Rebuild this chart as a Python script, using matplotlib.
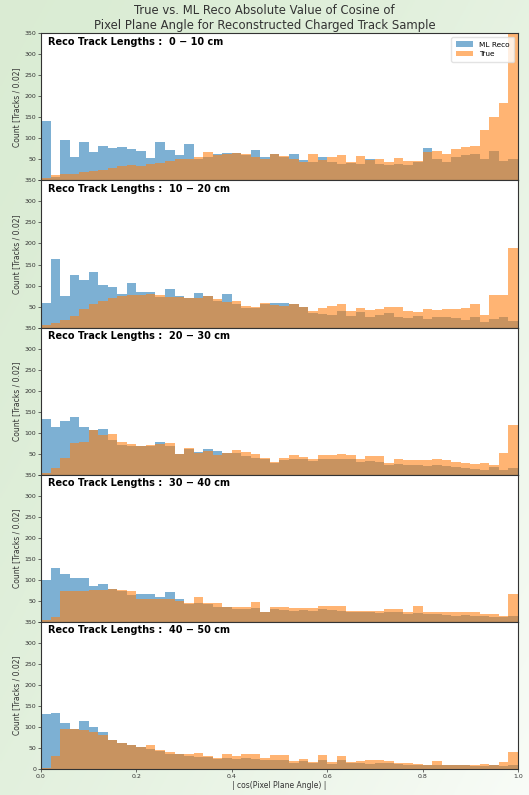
import numpy as np
import matplotlib
matplotlib.use("Agg")
import matplotlib.pyplot as plt

# |cos(pixel plane angle)| histograms, 50 bins of width 0.02, per reco track-length slice
length_labels = ["0 - 10", "10 - 20", "20 - 30", "30 - 40", "40 - 50"]

reco_0_10 = [142, 8, 96, 56, 92, 68, 82, 78, 80, 74, 70, 54, 92, 73, 60, 86, 52, 55, 62, 66,
             66, 60, 72, 56, 64, 56, 64, 48, 44, 56, 44, 40, 42, 40, 52, 38, 36, 40, 36, 44,
             78, 50, 44, 56, 60, 62, 52, 70, 46, 52]
true_0_10 = [5, 12, 15, 15, 20, 22, 25, 30, 34, 36, 35, 40, 42, 46, 50, 52, 56, 68, 60, 64,
             66, 64, 56, 52, 64, 58, 50, 44, 64, 48, 56, 60, 44, 58, 48, 52, 44, 54, 46, 46,
             68, 70, 64, 76, 80, 82, 120, 150, 185, 380]

reco_10_20 = [58, 163, 75, 126, 112, 131, 102, 96, 79, 105, 84, 84, 72, 92, 74, 71, 83, 75, 63, 79,
              55, 46, 47, 56, 58, 58, 55, 50, 34, 32, 30, 40, 28, 36, 26, 30, 34, 24, 22, 28,
              20, 26, 24, 22, 18, 26, 14, 20, 26, 16]
true_10_20 = [5, 10, 18, 28, 45, 55, 62, 70, 76, 78, 78, 80, 78, 72, 72, 70, 70, 74, 68, 60,
              62, 52, 48, 58, 54, 52, 55, 48, 40, 46, 52, 55, 40, 46, 42, 44, 48, 48, 40, 38,
              44, 42, 44, 44, 46, 57, 30, 78, 78, 190]

reco_20_30 = [132, 113, 127, 137, 113, 106, 109, 83, 71, 69, 67, 69, 77, 67, 48, 60, 53, 60, 57, 52,
              52, 44, 40, 36, 28, 34, 38, 36, 32, 36, 36, 38, 36, 30, 32, 30, 22, 26, 22, 22,
              20, 22, 20, 18, 16, 14, 12, 18, 10, 16]
true_20_30 = [5, 15, 40, 75, 78, 106, 95, 96, 78, 72, 68, 70, 72, 75, 48, 64, 52, 56, 46, 52,
              58, 55, 48, 40, 30, 40, 46, 42, 36, 46, 46, 50, 46, 38, 44, 44, 28, 36, 34, 34,
              34, 36, 34, 30, 28, 25, 28, 24, 52, 118]

reco_30_40 = [100, 127, 114, 104, 104, 84, 90, 78, 74, 63, 66, 66, 58, 70, 54, 42, 44, 42, 36, 34,
              30, 30, 32, 22, 30, 28, 26, 28, 26, 30, 28, 26, 22, 24, 22, 20, 22, 22, 18, 20,
              18, 18, 16, 14, 16, 14, 14, 12, 12, 14]
true_30_40 = [4, 10, 74, 74, 74, 75, 76, 78, 76, 72, 55, 55, 55, 54, 50, 44, 58, 44, 44, 34,
              34, 34, 48, 24, 34, 34, 32, 32, 32, 38, 38, 38, 26, 26, 26, 26, 30, 30, 22, 38,
              24, 24, 24, 24, 24, 24, 18, 18, 14, 67]

reco_40_50 = [130, 133, 109, 95, 113, 99, 87, 68, 62, 56, 52, 48, 42, 36, 34, 30, 28, 28, 24, 26,
              24, 26, 24, 22, 22, 20, 14, 18, 14, 20, 12, 20, 14, 14, 12, 14, 14, 12, 10, 10,
              8, 8, 10, 8, 8, 6, 6, 8, 6, 10]
true_40_50 = [3, 30, 95, 95, 92, 88, 80, 68, 62, 56, 52, 56, 45, 40, 36, 34, 38, 30, 26, 34,
              30, 34, 34, 26, 32, 32, 18, 24, 16, 32, 16, 30, 16, 18, 20, 22, 18, 14, 14, 12,
              10, 18, 10, 8, 10, 10, 12, 8, 16, 40]

reco_series = [reco_0_10, reco_10_20, reco_20_30, reco_30_40, reco_40_50]
true_series = [true_0_10, true_10_20, true_20_30, true_30_40, true_40_50]

y_ticks = [0, 50, 100, 150, 200, 250, 300, 350]
x_ticks = [0.0, 0.2, 0.4, 0.6, 0.8, 1.0]

edges = np.linspace(0.0, 1.0, 51)
centers = 0.5 * (edges[:-1] + edges[1:])

fig = plt.figure(figsize=(5.29, 7.95), dpi=100)

# soft green page background fading towards the lower right
bg = fig.add_axes([0, 0, 1, 1], zorder=-10)
gx, gy = np.meshgrid(np.linspace(0, 1, 200), np.linspace(0, 1, 300))
t = np.clip(0.55 * gx + 0.45 * gy, 0, 1) ** 1.6
c0 = np.array([0.855, 0.925, 0.830])
c1 = np.array([0.975, 0.988, 0.970])
img = c0[None, None, :] * (1 - t[..., None]) + c1[None, None, :] * t[..., None]
bg.imshow(img, aspect="auto", extent=[0, 1, 0, 1], origin="upper")
bg.axis("off")

left, right, top, bottom = 0.0775, 0.979, 0.958, 0.033
h = (top - bottom) / 5
axes = []
for i in range(5):
    ax = fig.add_axes([left, top - (i + 1) * h, right - left, h])
    axes.append(ax)
    ax.set_facecolor("white")
    ax.hist(centers, bins=edges, weights=reco_series[i], histtype="stepfilled",
            color="#1f77b4", alpha=0.58, label="ML Reco")
    ax.hist(centers, bins=edges, weights=true_series[i], histtype="stepfilled",
            color="#ff7f0e", alpha=0.58, label="True")
    ax.set_xlim(0, 1)
    ax.set_ylim(0, 350)
    ax.set_yticks(y_ticks)
    # the panel below carries the shared boundary label
    if i < 4:
        ax.set_yticklabels([""] + [str(v) for v in y_ticks[1:]])
    ax.set_xticks(x_ticks)
    ax.tick_params(labelsize=4.5, length=2, width=0.5, pad=1.5, colors="#333333")
    for s in ax.spines.values():
        s.set_linewidth(0.8)
        s.set_color("#333333")
    ax.set_ylabel("Count [Tracks / 0.02]", fontsize=5.5, labelpad=2, color="#333333")
    ax.text(0.015, 0.975, "Reco Track Lengths :  " + length_labels[i].replace("-", "\u2212") + " cm",
            transform=ax.transAxes, fontsize=7, fontweight="bold", va="top", ha="left")
    if i < 4:
        ax.tick_params(labelbottom=False)
    if i == 0:
        ax.legend(loc="upper right", fontsize=5.3, frameon=True, framealpha=0.8,
                  edgecolor="#dddddd", handlelength=2.4, borderpad=0.6)

axes[-1].set_xlabel("| cos(Pixel Plane Angle) |", fontsize=5.5, labelpad=2, color="#333333")

fig.text(0.5, top + 0.002, "True vs. ML Reco Absolute Value of Cosine of\nPixel Plane Angle for Reconstructed Charged Track Sample",
         ha="center", va="bottom", fontsize=8.4, color="#333333", linespacing=1.15)

fig.savefig("out.png", dpi=100)
